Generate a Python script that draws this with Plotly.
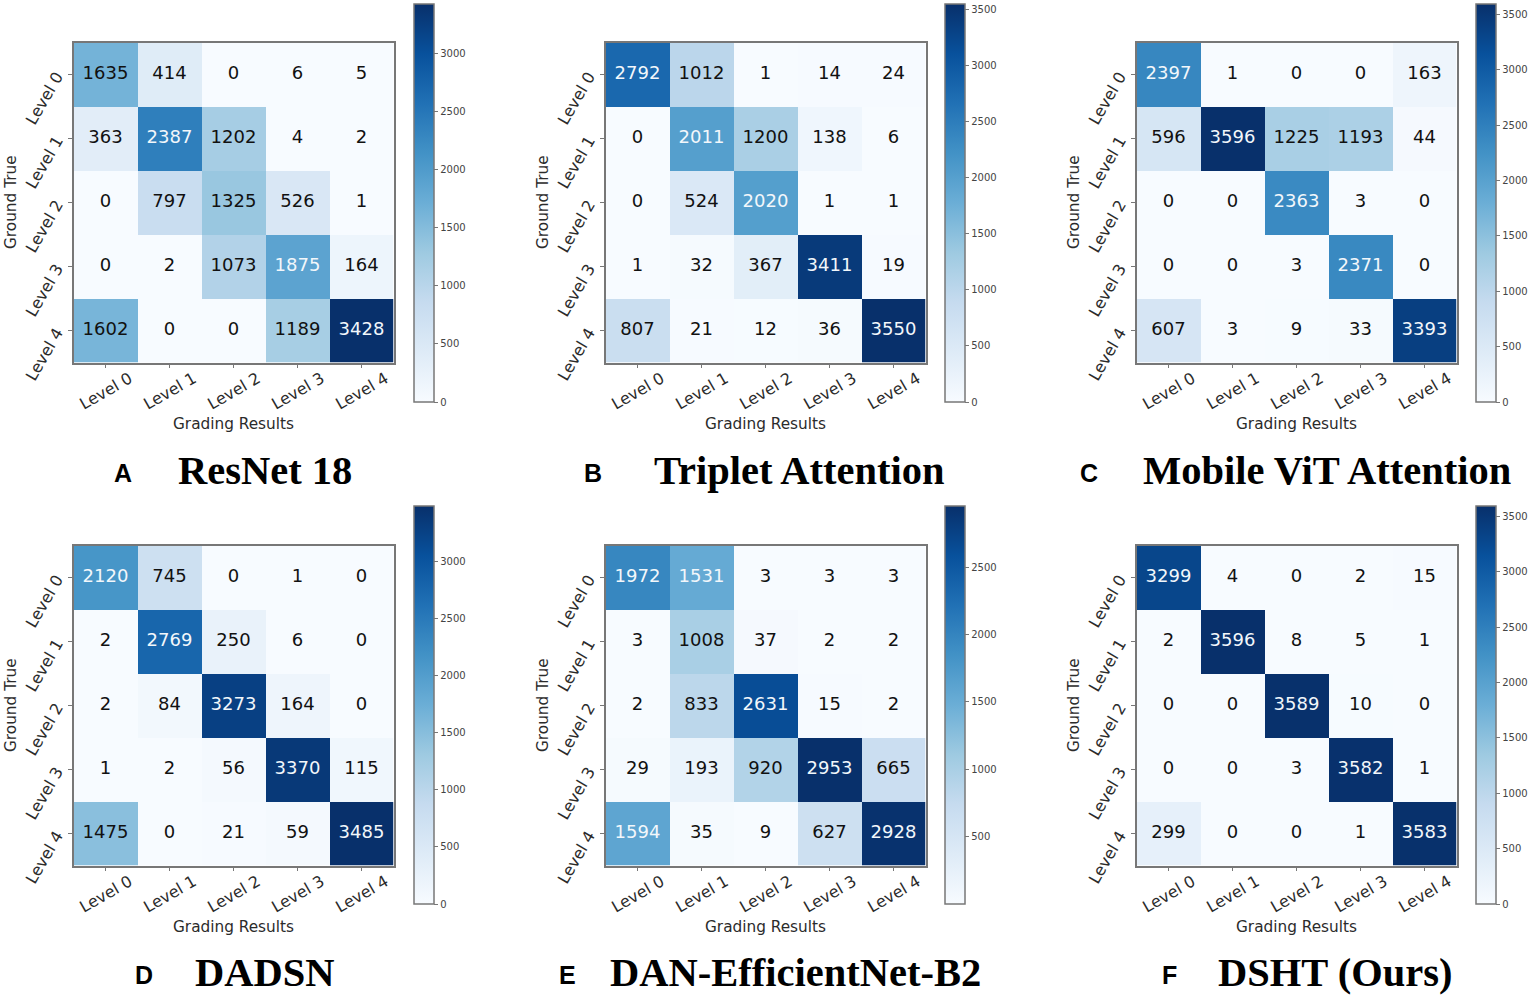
import plotly.graph_objects as go
import plotly.colors as pc

W = 1535
H = 1000

levels = ['Level 0', 'Level 1', 'Level 2', 'Level 3', 'Level 4']

names = ['ResNet 18', 'Triplet Attention', 'Mobile ViT Attention',
         'DADSN', 'DAN-EfficientNet-B2', 'DSHT (Ours)']
letters = ['A', 'B', 'C', 'D', 'E', 'F']

resnet18 = [[1635, 414, 0, 6, 5],
            [363, 2387, 1202, 4, 2],
            [0, 797, 1325, 526, 1],
            [0, 2, 1073, 1875, 164],
            [1602, 0, 0, 1189, 3428]]
triplet = [[2792, 1012, 1, 14, 24],
           [0, 2011, 1200, 138, 6],
           [0, 524, 2020, 1, 1],
           [1, 32, 367, 3411, 19],
           [807, 21, 12, 36, 3550]]
mobilevit = [[2397, 1, 0, 0, 163],
             [596, 3596, 1225, 1193, 44],
             [0, 0, 2363, 3, 0],
             [0, 0, 3, 2371, 0],
             [607, 3, 9, 33, 3393]]
dadsn = [[2120, 745, 0, 1, 0],
         [2, 2769, 250, 6, 0],
         [2, 84, 3273, 164, 0],
         [1, 2, 56, 3370, 115],
         [1475, 0, 21, 59, 3485]]
efficientnet = [[1972, 1531, 3, 3, 3],
                [3, 1008, 37, 2, 2],
                [2, 833, 2631, 15, 2],
                [29, 193, 920, 2953, 665],
                [1594, 35, 9, 627, 2928]]
dsht = [[3299, 4, 0, 2, 15],
        [2, 3596, 8, 5, 1],
        [0, 0, 3589, 10, 0],
        [0, 0, 3, 3582, 1],
        [299, 0, 0, 1, 3583]]
matrices = [resnet18, triplet, mobilevit, dadsn, efficientnet, dsht]

# pixel layout of the panels
plot_left = [73.5, 605.5, 1136.5]
plot_top = [42.5, 545.5]
plot_size = 320
bar_left = [414, 945, 1476]
bar_top = [4, 506]
bar_len = 398
title_x = [265, 799, 1327, 265, 795, 1335]
letter_x = [123, 593, 1089, 144, 567, 1169]
title_y = [470, 972]

GRAY = '#777777'
TEXT = '#2b2b2b'
CHART_FONT = 'DejaVu Sans'


def px(v):
    return v / W


def py(v):
    return 1 - v / H


def note(text, x, y, family, size, color='#000000', angle=0):
    return dict(text=text, x=px(x), y=py(y), xref='paper', yref='paper',
                showarrow=False, xanchor='center', yanchor='middle', textangle=angle,
                font=dict(family=family, size=size, color=color))


fig = go.Figure()
axes = {}
notes = []

for i, z in enumerate(matrices):
    col = i % 3
    row = i // 3
    n = str(i + 1)
    left = plot_left[col]
    top = plot_top[row]

    fig.add_trace(go.Heatmap(
        z=z, x=levels, y=levels, xaxis='x' + n, yaxis='y' + n,
        colorscale=pc.sequential.Blues, hoverinfo='skip',
        colorbar=dict(
            x=px(bar_left[col]), xanchor='left', xpad=0,
            y=py(bar_top[row] + bar_len), yanchor='bottom', ypad=0,
            len=bar_len / H, lenmode='fraction',
            thickness=20, thicknessmode='pixels',
            outlinecolor=GRAY, outlinewidth=1.5,
            tick0=0, dtick=500, ticks='outside', ticklen=4,
            tickcolor=GRAY, tickwidth=1,
            tickfont=dict(family=CHART_FONT, size=10, color='#444444'),
        ),
    ))

    # same white/black rule as the usual confusion matrix plot
    limit = max(max(r) for r in z) / 2
    xs, ys, labels, colors = [], [], [], []
    for r, values in enumerate(z):
        for c, v in enumerate(values):
            xs.append(levels[c])
            ys.append(levels[r])
            labels.append(str(v))
            colors.append('#f2f7fb' if v > limit else '#111111')
    fig.add_trace(go.Scatter(
        x=xs, y=ys, text=labels, mode='text', xaxis='x' + n, yaxis='y' + n,
        textfont=dict(family=CHART_FONT, size=18, color=colors),
        hoverinfo='skip', showlegend=False,
    ))

    axes['xaxis' + n] = dict(
        domain=[px(left), px(left + plot_size)], anchor='y' + n,
        automargin=False,
        tickangle=-30, ticks='outside', ticklen=4, tickcolor=GRAY,
        ticklabelstandoff=-5, ticklabelshift=24,
        showline=True, mirror=True, linecolor=GRAY, linewidth=1.5,
        showgrid=False, zeroline=False,
        tickfont=dict(family=CHART_FONT, size=16, color=TEXT),
    )
    axes['yaxis' + n] = dict(
        domain=[py(top + plot_size), py(top)], anchor='x' + n,
        automargin=False,
        autorange='reversed',
        tickangle=-60, ticks='outside', ticklen=4, tickcolor=GRAY,
        ticklabelstandoff=8,
        showline=True, mirror=True, linecolor=GRAY, linewidth=1.5,
        showgrid=False, zeroline=False,
        tickfont=dict(family=CHART_FONT, size=16, color=TEXT),
    )

    # axis titles placed by hand, plotly's own ones sit too far from the labels
    notes.append(note('Grading Results', left + plot_size / 2, top + plot_size + 61,
                      CHART_FONT, 15.3, TEXT))
    notes.append(note('Ground True', left - 63, top + plot_size / 2,
                      CHART_FONT, 15.3, TEXT, angle=-90))
    notes.append(note('<b>' + names[i] + '</b>', title_x[i], title_y[row],
                      'Liberation Serif', 40.5))
    notes.append(note('<b>' + letters[i] + '</b>', letter_x[i], title_y[row] + 3,
                      'Liberation Sans', 25))

fig.update_layout(
    width=W, height=H,
    margin=dict(l=0, r=0, t=0, b=0),
    paper_bgcolor='white', plot_bgcolor='white',
    showlegend=False,
    annotations=notes,
    **axes,
)

# page margin would shift the whole figure by 8px
fig.write_html("out.html", config={'displayModeBar': False},
               post_script="document.body.style.margin='0';")
